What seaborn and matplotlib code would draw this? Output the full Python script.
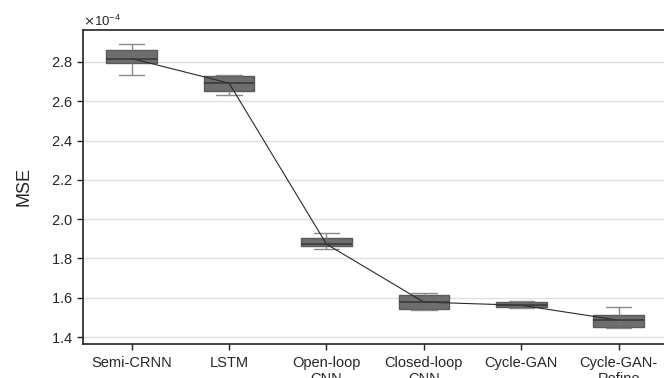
import numpy as np
import pandas as pd
import matplotlib
matplotlib.use('Agg')
import matplotlib.pyplot as plt
import seaborn as sns
from matplotlib.ticker import ScalarFormatter

# Five-number summaries (units of 1e-4)
models = ['Semi-CRNN', 'LSTM', 'Open-loop\nCNN', 'Closed-loop\nCNN', 'Cycle-GAN', 'Cycle-GAN-\nRefine']
lower = [2.733, 2.634, 1.850, 1.538, 1.549, 1.447]
q1 = [2.795, 2.654, 1.861, 1.545, 1.552, 1.449]
median = [2.817, 2.692, 1.873, 1.578, 1.562, 1.486]
q3 = [2.860, 2.729, 1.906, 1.616, 1.579, 1.511]
upper = [2.891, 2.731, 1.932, 1.623, 1.583, 1.555]
scale = 1e-4

# long table: the five summary values per model give the same box
rows = []
for i, m in enumerate(models):
    for v in (lower[i], q1[i], median[i], q3[i], upper[i]):
        rows.append({'model': m, 'mse': v * scale})
df = pd.DataFrame(rows)
med_df = pd.DataFrame({'model': models, 'mse': np.array(median) * scale})

sns.set_style('white')
plt.rcParams['font.family'] = ['Liberation Sans', 'DejaVu Sans']

fig = plt.figure(figsize=(6.64, 3.78), dpi=100)
ax = fig.add_axes([0.125, 0.091, 0.88, 0.83])

ax.yaxis.grid(True, color='#e0e0e0', linewidth=1.0)
ax.set_axisbelow(True)

sns.boxplot(data=df, x='model', y='mse', order=models, width=0.52, whis=(0, 100),
            color='#6e6e6e', linecolor='#5a5a5a', linewidth=1.0, saturation=1,
            medianprops={'color': '#3a3a3a', 'linewidth': 1.2},
            whiskerprops={'color': '#8a8a8a'}, capprops={'color': '#8a8a8a'},
            ax=ax)
sns.pointplot(data=med_df, x='model', y='mse', order=models, color='#2a2a2a',
              markers='', linewidth=0.8, errorbar=None, ax=ax)

ax.set_xlim(-0.5, 5.5)
ax.set_ylim(1.367e-4, 2.963e-4)
ax.set_yticks(np.arange(1.4, 2.81, 0.2) * scale)
fmt = ScalarFormatter(useMathText=True)
fmt.set_powerlimits((-4, -4))
ax.yaxis.set_major_formatter(fmt)
ax.yaxis.get_offset_text().set_fontsize(9.5)

ax.set_xlabel('')
ax.set_ylabel('MSE', fontsize=13, labelpad=13)
ax.tick_params(axis='both', labelsize=10.5, direction='out', length=4, width=1, color='#222222')
ax.tick_params(axis='x', bottom=True, pad=5)
ax.tick_params(axis='y', left=True)
for s in ax.spines.values():
    s.set_color('#222222')
    s.set_linewidth(1.2)

plt.savefig('out.png', dpi=100)
